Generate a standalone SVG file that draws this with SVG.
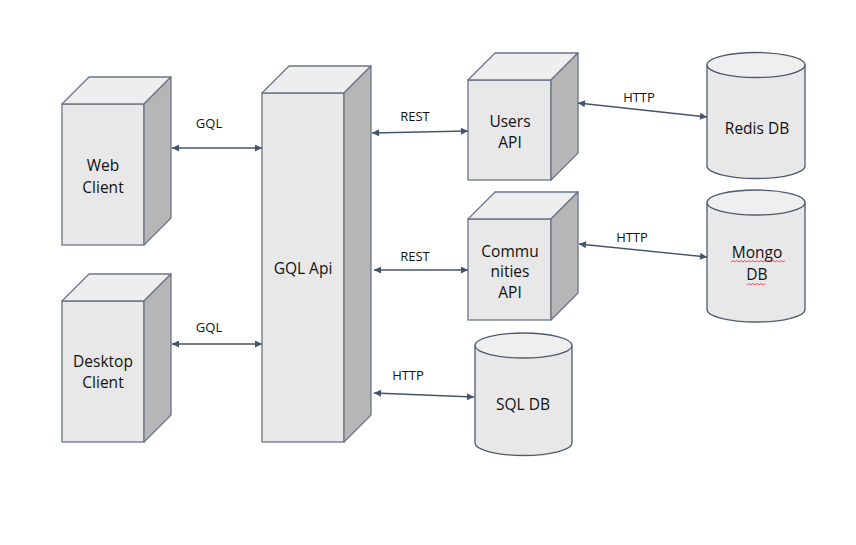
<svg xmlns="http://www.w3.org/2000/svg" width="856" height="545" viewBox="0 0 856 545">
<defs>
<marker id="ah" viewBox="0 0 10 10" refX="10" refY="5" markerWidth="9" markerHeight="7" markerUnits="userSpaceOnUse" orient="auto-start-reverse">
<path d="M0,0 L10,5 L0,10 z" fill="#44546a"/>
</marker>
<style>
.front{fill:#e8e8e8;stroke:#6b7587;stroke-width:1.3}
.top{fill:#eeeeee;stroke:#6b7587;stroke-width:1.3;stroke-linejoin:round}
.side{fill:#b6b6b6;stroke:#6b7587;stroke-width:1.3;stroke-linejoin:round}
.cyl{fill:#e8e8e8;stroke:#4f5b6e;stroke-width:1.3}
.cyltop{fill:#efefef;stroke:#4f5b6e;stroke-width:1.3}
.lbl{font-family:"Open Sans","Noto Sans",sans-serif;font-size:15.5px;fill:#111;text-anchor:middle}
.elbl{font-family:"Open Sans","Noto Sans",sans-serif;font-size:13px;fill:#111;text-anchor:middle}
.conn{stroke:#44546a;stroke-width:1.4;fill:none;marker-start:url(#ah);marker-end:url(#ah)}
.squig{stroke:#e04848;stroke-width:0.9;fill:none}
</style>
</defs>
<rect width="856" height="545" fill="#ffffff"/>

<g id="web-client">
<rect class="front" x="62" y="104" width="82" height="141"/>
<polygon class="top" points="62,104 89,77 171,77 144,104"/>
<polygon class="side" points="144,104 171,77 171,218 144,245"/>
<text class="lbl" x="103" y="171">Web</text>
<text class="lbl" x="103" y="193">Client</text>
</g>

<g id="desktop-client">
<rect class="front" x="62" y="301" width="82" height="141"/>
<polygon class="top" points="62,301 89,274 171,274 144,301"/>
<polygon class="side" points="144,301 171,274 171,415 144,442"/>
<text class="lbl" x="103" y="367">Desktop</text>
<text class="lbl" x="103" y="388">Client</text>
</g>

<g id="gql-api">
<rect class="front" x="262" y="93" width="82" height="349"/>
<polygon class="top" points="262,93 289,66 371,66 344,93"/>
<polygon class="side" points="344,93 371,66 371,415 344,442"/>
<text class="lbl" x="303" y="274">GQL Api</text>
</g>

<g id="users-api">
<rect class="front" x="468" y="80" width="83" height="100"/>
<polygon class="top" points="468,80 495,53 578,53 551,80"/>
<polygon class="side" points="551,80 578,53 578,153 551,180"/>
<text class="lbl" x="510" y="127">Users</text>
<text class="lbl" x="510" y="148">API</text>
</g>

<g id="communities-api">
<rect class="front" x="468" y="219" width="83" height="101"/>
<polygon class="top" points="468,219 495,192 578,192 551,219"/>
<polygon class="side" points="551,219 578,192 578,293 551,320"/>
<text class="lbl" x="510" y="257">Commu</text>
<text class="lbl" x="510" y="277">nities</text>
<text class="lbl" x="510" y="298">API</text>
</g>

<g id="redis-db">
<path class="cyl" d="M707,65 L707,166 A49,12.5 0 0 0 805,166 L805,65"/>
<ellipse class="cyltop" cx="756" cy="65" rx="49" ry="12.5"/>
<text class="lbl" x="757" y="134">Redis DB</text>
</g>

<g id="mongo-db">
<path class="cyl" d="M707,202.5 L707,309.5 A49,12.5 0 0 0 805,309.5 L805,202.5"/>
<ellipse class="cyltop" cx="756" cy="202.5" rx="49" ry="12.5"/>
<text class="lbl" x="757" y="258">Mongo</text>
<text class="lbl" x="757" y="280">DB</text>
<path class="squig" d="M731,262 l2,-1.5 l2,1.5 l2,-1.5 l2,1.5 l2,-1.5 l2,1.5 l2,-1.5 l2,1.5 l2,-1.5 l2,1.5 l2,-1.5 l2,1.5 l2,-1.5 l2,1.5 l2,-1.5 l2,1.5 l2,-1.5 l2,1.5 l2,-1.5 l2,1.5 l2,-1.5 l2,1.5 l2,-1.5 l2,1.5 l2,-1.5 l2,1.5 l2,-1.5"/>
<path class="squig" d="M747,285 l2,-1.5 l2,1.5 l2,-1.5 l2,1.5 l2,-1.5 l2,1.5 l2,-1.5 l2,1.5 l2,-1.5"/>
</g>

<g id="sql-db">
<path class="cyl" d="M475,345.5 L475,443 A48.5,12.5 0 0 0 572,443 L572,345.5"/>
<ellipse class="cyltop" cx="523.5" cy="345.5" rx="48.5" ry="12.5"/>
<text class="lbl" x="523" y="410">SQL DB</text>
</g>

<g id="connectors">
<line class="conn" x1="172" y1="148" x2="262" y2="148"/>
<text class="elbl" x="209" y="128">GQL</text>
<line class="conn" x1="172" y1="344" x2="262" y2="344"/>
<text class="elbl" x="209" y="332">GQL</text>
<line class="conn" x1="372" y1="133" x2="468" y2="131"/>
<text class="elbl" x="415" y="121">REST</text>
<line class="conn" x1="374" y1="270" x2="468" y2="270"/>
<text class="elbl" x="415" y="261">REST</text>
<line class="conn" x1="374" y1="393" x2="474" y2="397"/>
<text class="elbl" x="408" y="380">HTTP</text>
<line class="conn" x1="578" y1="103" x2="707" y2="117"/>
<text class="elbl" x="639" y="102">HTTP</text>
<line class="conn" x1="579" y1="244" x2="707" y2="257"/>
<text class="elbl" x="632" y="242">HTTP</text>
</g>
</svg>
